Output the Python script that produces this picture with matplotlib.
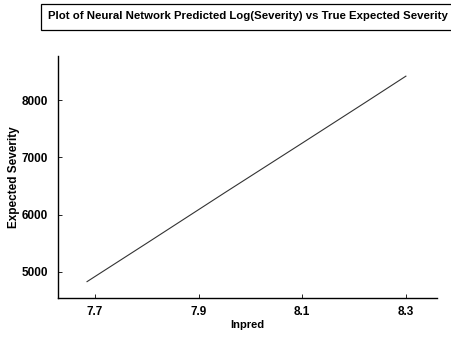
import matplotlib
matplotlib.use("Agg")
import matplotlib.pyplot as plt
from matplotlib.patches import Rectangle

# Neural network predicted log(severity) against the true expected severity
lnpred = [7.685, 7.80, 7.95, 8.10, 8.22, 8.30]
expected_severity = [4830, 5500, 6380, 7250, 7950, 8420]

x_ticks = [7.7, 7.9, 8.1, 8.3]
x_tick_labels = ["7.7", "7.9", "8.1", "8.3"]
y_ticks = [5000, 6000, 7000, 8000]

plt.rcParams["font.family"] = ["Liberation Sans", "DejaVu Sans"]
plt.rcParams["font.weight"] = "bold"

W, H = 452, 344
fig = plt.figure(figsize=(W / 100, H / 100), dpi=100)
ax = fig.add_axes([58 / W, 46 / H, (437 - 58) / W, (298 - 56) / H])

ax.plot(lnpred, expected_severity, color="#333333", linewidth=0.8)

ax.set_xlim(7.629, 8.36)
ax.set_ylim(4544, 8772)
ax.set_xticks(x_ticks)
ax.set_xticklabels(x_tick_labels)
ax.set_yticks(y_ticks)
ax.tick_params(axis="x", direction="in", length=3, width=0.6,
               labelsize=8.5, pad=6)
ax.tick_params(axis="y", direction="in", length=3, width=0.6,
               labelsize=8.5, pad=7)
for lbl in ax.get_xticklabels() + ax.get_yticklabels():
    lbl.set_fontweight("bold")

ax.spines["top"].set_visible(False)
ax.spines["right"].set_visible(False)
ax.spines["left"].set_linewidth(1.0)
ax.spines["bottom"].set_linewidth(1.0)

ax.set_xlabel("lnpred", fontsize=8, fontweight="bold", labelpad=1)
ax.set_ylabel("Expected Severity", fontsize=8.5, fontweight="bold", labelpad=1)

# Boxed title banner
fig.patches.append(Rectangle((41 / W, 1 - 30 / H), (W - 41) / W + 0.01, 26 / H,
                             transform=fig.transFigure, facecolor="white",
                             edgecolor="black", linewidth=0.9))
fig.text(48 / W, 1 - 16 / H,
         "Plot of Neural Network Predicted Log(Severity) vs True Expected Severity",
         ha="left", va="center", fontsize=8.2, fontweight="bold")

fig.savefig("out.png", dpi=100)
